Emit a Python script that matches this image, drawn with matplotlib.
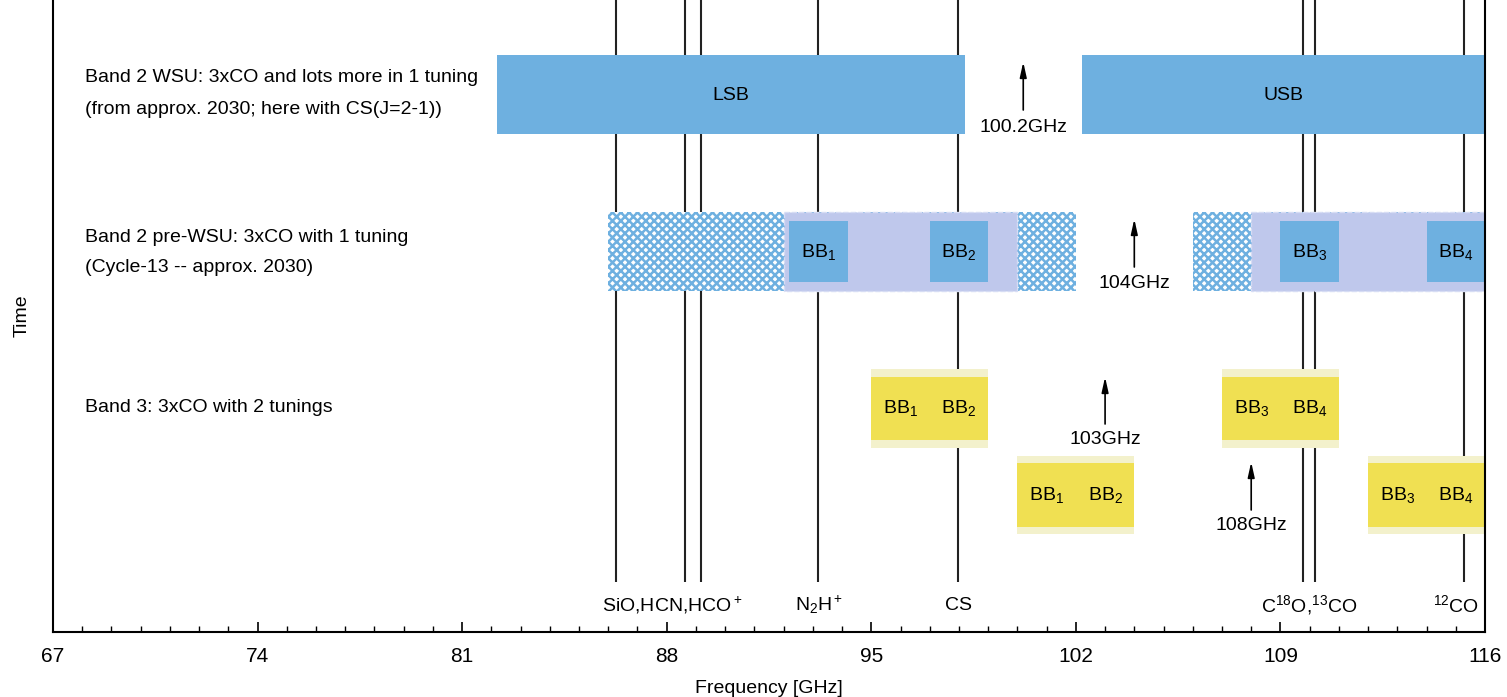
import matplotlib.pyplot as plt
import matplotlib.patches as mpatches
from matplotlib.ticker import MultipleLocator

plt.rcParams['font.family'] = ['Liberation Sans', 'DejaVu Sans']
plt.rcParams['mathtext.fontset'] = 'custom'
plt.rcParams['mathtext.rm'] = 'Liberation Sans'
plt.rcParams['mathtext.it'] = 'Liberation Sans'
plt.rcParams['hatch.linewidth'] = 1.8

# frequency range [GHz]
f_min, f_max = 67, 116
major_ticks = list(range(67, 117, 7))

# spectral lines
line_names = ['SiO', 'HCN', 'HCO+', 'N2H+', 'CS', 'C18O', '13CO', '12CO']
line_freqs = [86.25, 88.63, 89.19, 93.17, 97.98, 109.78, 110.20, 115.27]
label_texts = ['SiO,HCN,HCO$^+$', 'N$_2$H$^+$', 'CS', 'C$^{18}$O,$^{13}$CO', '$^{12}$CO']
label_freqs = [88.2, 93.2, 97.98, 110.0, 115.0]

# Band 2 WSU (LO 100.2 GHz)
wsu_lo = 100.2
wsu_sb = [(82.2, 98.2), (102.2, 118.2)]
wsu_sb_names = ['LSB', 'USB']

# Band 2 pre-WSU (LO 104 GHz)
pre_lo = 104.0
pre_full = [(86.0, 102.0), (106.0, 122.0)]
pre_inner = [(92.0, 100.0), (108.0, 116.0)]
pre_bb = [(92.2, 94.2), (97.0, 99.0), (109.0, 111.0), (114.0, 116.0)]
pre_bb_names = ['BB$_1$', 'BB$_2$', 'BB$_3$', 'BB$_4$']

# Band 3, two tunings
b3_los = [103.0, 108.0]
b3_sb = [[(95.0, 99.0), (107.0, 111.0)],
         [(100.0, 104.0), (112.0, 116.0)]]
b3_bb_names = [['BB$_1$', 'BB$_2$'], ['BB$_3$', 'BB$_4$']]

row_texts = [
    ['Band 2 WSU: 3xCO and lots more in 1 tuning',
     '(from approx. 2030; here with CS(J=2-1))'],
    ['Band 2 pre-WSU: 3xCO with 1 tuning',
     '(Cycle-13 -- approx. 2030)'],
    ['Band 3: 3xCO with 2 tunings'],
]

blue = '#6eb0e0'
lilac = '#bfc8ec'
yellow = '#f0e052'
paleyellow = '#f3f1cc'
fs = 14

fig = plt.figure(figsize=(15.07, 6.97), dpi=100)
ax = fig.add_axes([53 / 1507, 1 - 632 / 697, (1485 - 53) / 1507, 632 / 697])
ax.set_xlim(f_min, f_max)
ax.set_ylim(632, 0)


def box(x0, x1, y0, y1, **kw):
    ax.add_patch(mpatches.Rectangle((x0, y0), x1 - x0, y1 - y0, zorder=2, **kw))


# spectral lines
ax.vlines(line_freqs, 0, 582, color='#222222', lw=1.5, zorder=1)
for t, f in zip(label_texts, label_freqs):
    ax.text(f, 605, t, ha='center', va='center', fontsize=fs)

# WSU
for (a, b), name in zip(wsu_sb, wsu_sb_names):
    box(a, b, 55, 134, facecolor=blue, lw=0)
    ax.text((a + min(b, f_max)) / 2, 95, name,
            ha='center', va='center', fontsize=fs)

# pre-WSU
for a, b in pre_full:
    box(a, b, 212, 291, facecolor='white', edgecolor=blue, hatch='xxxx', lw=0)
for a, b in pre_inner:
    box(a, b, 212, 291, facecolor=lilac, edgecolor='#d6dcf4', lw=1, ls='--')
for (a, b), name in zip(pre_bb, pre_bb_names):
    box(a, b, 221, 282, facecolor=blue, lw=0)
    ax.text((a + b) / 2, 252, name, ha='center', va='center', fontsize=fs)

# Band 3
rows = [(369, 377, 440, 448), (456, 463, 527, 534)]
for sbs, (o0, i0, i1, o1) in zip(b3_sb, rows):
    for (a, b), names in zip(sbs, b3_bb_names):
        box(a, b, o0, o1, facecolor=paleyellow, lw=0)
        box(a, b, i0, i1, facecolor=yellow, lw=0)
        yc = (i0 + i1) / 2
        ax.text(a + 1, yc, names[0], ha='center', va='center', fontsize=fs, zorder=3)
        ax.text(b - 1, yc, names[1], ha='center', va='center', fontsize=fs, zorder=3)

# LO arrows
arrow_rows = [(wsu_lo, 110, 62, 127), (pre_lo, 267, 219, 284),
              (b3_los[0], 424, 377, 439), (b3_los[1], 510, 462, 525)]
for f, y0, y1, yt in arrow_rows:
    ax.annotate('', xy=(f, y1), xytext=(f, y0),
                arrowprops=dict(arrowstyle='-|>,head_width=0.2,head_length=0.9',
                                color='black', lw=1.2, shrinkA=0, shrinkB=0))
    ax.text(f, yt, ('%g' % f) + 'GHz', ha='center', va='center', fontsize=fs)

# row descriptions
ax.text(68.08, 78, row_texts[0][0], va='center', fontsize=fs)
ax.text(68.08, 110, row_texts[0][1], va='center', fontsize=fs)
ax.text(68.08, 237, row_texts[1][0], va='center', fontsize=fs)
ax.text(68.08, 268, row_texts[1][1], va='center', fontsize=fs)
ax.text(68.08, 408, row_texts[2][0], va='center', fontsize=fs)

# axes styling
ax.spines['top'].set_visible(False)
for s in ['left', 'right', 'bottom']:
    ax.spines[s].set_linewidth(1.5)
ax.set_xticks(major_ticks)
ax.xaxis.set_minor_locator(MultipleLocator(1))
ax.tick_params(axis='x', which='major', direction='in', length=7, width=1.2,
               labelsize=15, pad=11)
ax.tick_params(axis='x', which='minor', direction='in', length=4, width=1)
ax.set_yticks([])
ax.set_xlabel('Frequency [GHz]', fontsize=14, labelpad=10)
ax.set_ylabel('Time', fontsize=14, labelpad=16)

fig.savefig('out.png', dpi=100)
